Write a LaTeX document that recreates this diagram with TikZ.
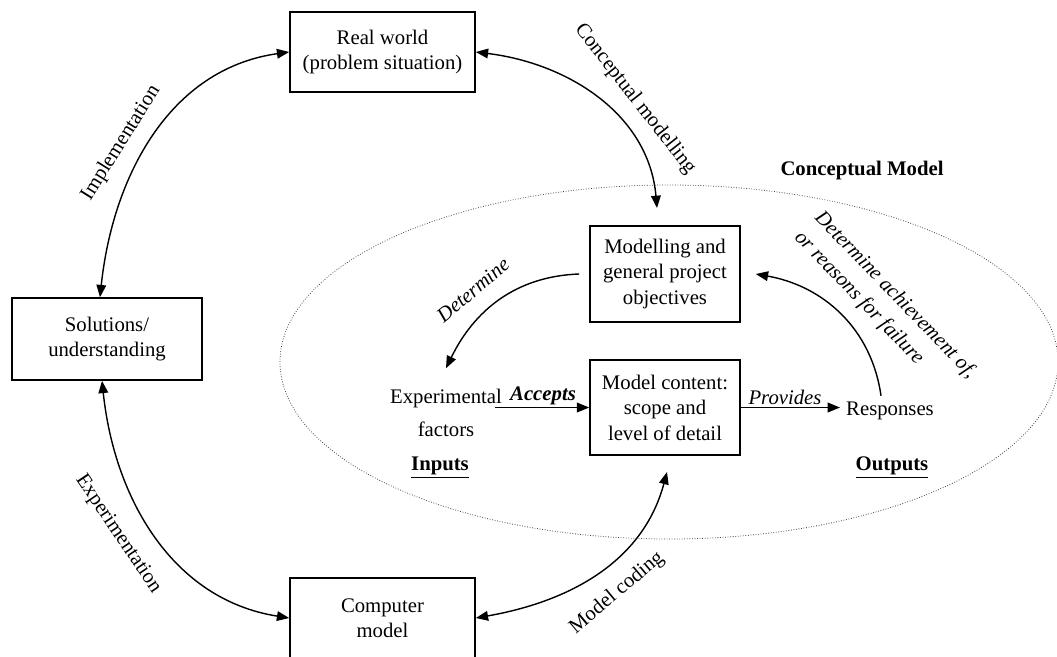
\documentclass[tikz,border=0pt]{standalone}
\usepackage{fontspec}
\setmainfont{Liberation Serif}
\usetikzlibrary{positioning, arrows.meta, shapes}
\newcommand{\diagfont}{\fontsize{11.8}{14.5}\selectfont}

\begin{document}
\begin{tikzpicture}[
        font=\diagfont,
        box/.style={rectangle, draw, line width=0.9pt, minimum width=3.7cm, minimum height=1.6cm, align=center, inner sep=2pt},
        arrow/.style={-{Triangle[length=7pt,width=5.5pt]}, line width=0.8pt},
        twoway/.style={{Triangle[length=7pt,width=5.5pt]}-{Triangle[length=7pt,width=5.5pt]}, line width=0.8pt},
        ital/.style={font=\diagfont\itshape},
        bound/.style={densely dotted, line width=0.45pt, black!75}
    ]
    \useasboundingbox (0,0) rectangle (21.14,-13.12);
    \draw[bound] (13.38,-7.24) ellipse [x radius=7.78cm, y radius=3.54cm];

    \node[box] (realworld) at (7.65,-1.04) {Real world\\(problem situation)};
    \node[box, minimum width=3.8cm, minimum height=1.64cm] (solutions) at (2.14,-6.78) {Solutions/\\understanding};
    \node[box] (computer) at (7.65,-12.36) {Computer\\model};
    \node[box, minimum width=3cm, minimum height=1.92cm] (modelling) at (13.3,-5.48) {Modelling and\\general project\\objectives};
    \node[box, minimum width=3cm, minimum height=1.9cm] (content) at (13.3,-8.15) {Model content:\\scope and\\level of detail};

    \node[align=center] (expfac) at (8.92,-8.26) {Experimental\\[4pt]factors};
    \node (responses) at (17.8,-8.22) {Responses};
    \node (accepts) at (10.86,-7.92) {\textbf{\textit{Accepts}}};
    \node[ital] (provides) at (15.7,-7.94) {Provides};
    \node (inputs) at (8.8,-9.36) {\underline{\textbf{Inputs}}};
    \node (outputs) at (17.84,-9.36) {\underline{\textbf{Outputs}}};
    \node (cmtitle) at (17.24,-3.42) {\textbf{Conceptual Model}};

    \node[rotate=58] (impl) at (2.42,-2.86) {Implementation};
    \node[rotate=-52] (cmod) at (12.7,-1.98) {Conceptual modelling};
    \node[rotate=-56] (expt) at (2.36,-10.68) {Experimentation};
    \node[rotate=40] (mcod) at (12.34,-11.86) {Model coding};
    \node[ital, rotate=40] (det) at (9.46,-5.8) {Determine};
    \node[ital, rotate=-46, align=left] (detach) at (17.7,-6.1) {Determine achievement of,\\[1.5pt]or reasons for failure};

    \coordinate (cmin) at (13.14,-4.16);
    \coordinate (mcin) at (13.34,-9.44);

    \draw[twoway] (realworld.west) to[out=188, in=84] ([xshift=-0.14cm]solutions.north);
    \draw[twoway] (realworld.east) to[out=-7, in=95] (cmin);
    \draw[twoway] ([xshift=-0.1cm]solutions.south) to[out=-84, in=171] (computer.west);
    \draw[twoway] (computer.east) to[out=10, in=-105] (mcin);
    \draw[arrow] ([xshift=-0.2cm]modelling.west) to[out=182, in=64] ([yshift=0.3cm]expfac.north);
    \draw[arrow] ([xshift=-0.18cm]responses.north) to[out=98, in=-10] ([xshift=0.3cm]modelling.east);
    \draw[arrow] ([xshift=-0.26cm]expfac.east |- content.west) -- (content.west);
    \draw[arrow] (content.east) -- (content.east -| responses.west);
\end{tikzpicture}
\end{document}
